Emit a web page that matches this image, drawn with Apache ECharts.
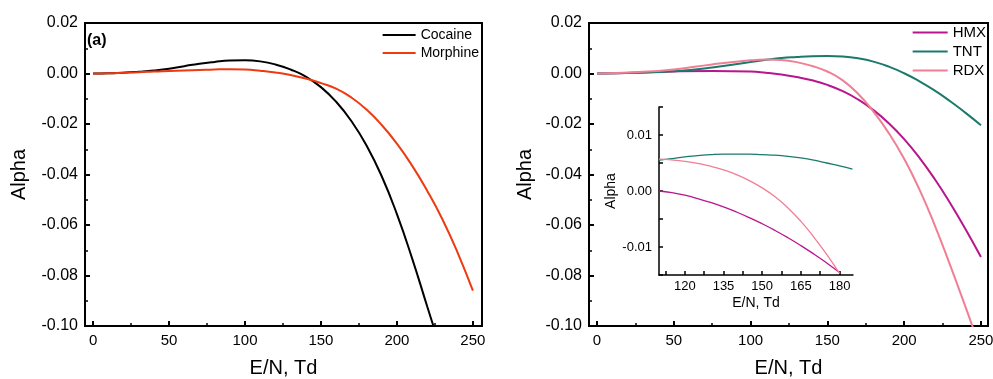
<!DOCTYPE html>
<html>
<head>
<meta charset="utf-8">
<script src="https://cdn.jsdelivr.net/npm/echarts@6/dist/echarts.min.js"></script>
<style>
html,body{margin:0;padding:0;background:#fff;}
#c{width:993px;height:379px;}
</style>
</head>
<body>
<div id="c"></div>
<script>
// ---- Left panel (a) ----
var cocaineX = [0,10,20,30,40,50,60,70,80,90,100,110,120,130,140,150,160,170,180,190,200,210,220,224];
var cocaineY = [0,0.0001,0.0003,0.0007,0.0012,0.0019,0.0029,0.0039,0.0046,0.0051,0.0052,0.0048,0.0036,0.0016,-0.0012,-0.0054,-0.0112,-0.0188,-0.0285,-0.0407,-0.0557,-0.0732,-0.0924,-0.1000];
var morphineX = [0,10,20,30,40,50,60,70,80,90,100,110,120,130,140,150,160,170,180,190,200,210,220,230,240,250];
var morphineY = [0,0.0001,0.0003,0.0005,0.0008,0.0010,0.0012,0.0014,0.0016,0.0017,0.0016,0.0011,0.0004,-0.0006,-0.0020,-0.0038,-0.0060,-0.0095,-0.0143,-0.0204,-0.0278,-0.0365,-0.0465,-0.0578,-0.0710,-0.0860];

// ---- Right panel ----
var rightX = [0,25,50,75,100,110,120,130,140,150,160,170,180,190,200,210,220,230,240,250];
var hmxY = [0,0.0003,0.0008,0.0010,0.0008,0.0003,-0.0004,-0.0014,-0.0027,-0.0045,-0.0070,-0.0103,-0.0145,-0.0197,-0.0260,-0.0334,-0.0419,-0.0514,-0.0617,-0.0727];
var tntY = [0,0.0003,0.0009,0.0024,0.0046,0.0054,0.0061,0.0065,0.0068,0.0069,0.0067,0.0060,0.0047,0.0027,0.0001,-0.0031,-0.0068,-0.0110,-0.0156,-0.0205];
var rdxX = [0,25,50,75,100,110,120,130,140,150,160,170,180,190,200,210,220,230,240,245];
var rdxY = [0,0.0005,0.0016,0.0036,0.0052,0.0055,0.0053,0.0045,0.0030,0.0008,-0.0027,-0.0080,-0.0151,-0.0236,-0.0338,-0.0460,-0.0602,-0.0760,-0.0925,-0.1010];

// ---- Inset ----
var insetX = [110,115,120,125,130,135,140,145,150,155,160,165,170,175,180];
var insetTntX = [110,115,120,125,130,135,140,145,150,155,160,165,170,175,180,185];
var insetTntY = [0.0055,0.0058,0.0061,0.0063,0.0065,0.0066,0.0066,0.0066,0.0065,0.0064,0.0062,0.0059,0.0055,0.0050,0.0045,0.0039];
var insetRdxY = [0.0057,0.00555,0.0053,0.00493,0.00443,0.00377,0.00292,0.00185,0.00055,-0.00102,-0.00302,-0.00542,-0.00822,-0.01132,-0.01472];
var insetHmxY = [0,-0.0003,-0.00075,-0.00135,-0.00205,-0.00285,-0.00375,-0.00475,-0.00585,-0.00705,-0.00835,-0.00975,-0.01125,-0.01285,-0.01455];

// ---- Ticks ----
var mainXLabels = [0,50,100,150,200,250];
var mainXMinor = [25,75,125,175,225];
var insetXLabels = [120,135,150,165,180];
var insetXTicks = [112.5,120,127.5,135,142.5,150,157.5,165,172.5,180];

var COLORS = {Cocaine:'#000000', Morphine:'#ee3a10', HMX:'#b8168c', TNT:'#1a7a6c', RDX:'#f07f95'};
var FONT = 'Liberation Sans, Arial, sans-serif';

function pairs(xs, ys){ return xs.map(function(x,i){ return [x, ys[i]]; }); }
function fmt2(v){ if (Math.abs(v) < 1e-9) return '0.00'; return v.toFixed(2); }

function mainX(grid, min, max){
  return [{
    type:'value', gridIndex:grid, min:min, max:max, position:'bottom',
    name:'E/N, Td', nameLocation:'middle', nameGap:32,
    nameTextStyle:{fontSize:20, color:'#000', fontFamily:FONT},
    axisLine:{show:true, onZero:false, lineStyle:{color:'#000', width:2}},
    axisTick:{show:true, inside:true, length:5, customValues:mainXLabels, lineStyle:{color:'#000', width:2}},
    axisLabel:{show:true, customValues:mainXLabels, fontSize:15, color:'#000', fontFamily:FONT, margin:7},
    splitLine:{show:false}
  },{
    type:'value', gridIndex:grid, min:min, max:max, position:'bottom',
    axisLine:{show:false, onZero:false},
    axisTick:{show:true, inside:true, length:3, customValues:mainXMinor, lineStyle:{color:'#000', width:1.5}},
    axisLabel:{show:false},
    splitLine:{show:false}
  }];
}
function mainY(grid, gap){
  return {
    type:'value', gridIndex:grid, min:-0.1, max:0.02, interval:0.02,
    name:'Alpha', nameLocation:'middle', nameGap:gap,
    nameTextStyle:{fontSize:20, color:'#000', fontFamily:FONT},
    axisLine:{show:true, onZero:false, lineStyle:{color:'#000', width:2}},
    axisTick:{show:true, inside:true, length:5, lineStyle:{color:'#000', width:2}},
    minorTick:{show:true, splitNumber:2, length:3, lineStyle:{color:'#000', width:1.5}},
    axisLabel:{fontSize:16, color:'#000', fontFamily:FONT, margin:7, formatter:fmt2},
    splitLine:{show:false}, minorSplitLine:{show:false}
  };
}

function line(name, xi, yi, data, width){
  return {name:name, type:'line', xAxisIndex:xi, yAxisIndex:yi, data:data,
    smooth:true, symbol:'none', silent:true,
    lineStyle:{color:COLORS[name], width:width}, itemStyle:{color:COLORS[name]}};
}

var xAxes = [].concat(mainX(0, -5.3, 256), mainX(1, -5.2, 254.6));
xAxes.push({
  type:'value', gridIndex:2, min:110, max:185.2, position:'bottom',
  name:'E/N, Td', nameLocation:'middle', nameGap:21,
  nameTextStyle:{fontSize:14, color:'#000', fontFamily:FONT},
  axisLine:{show:true, onZero:false, lineStyle:{color:'#000', width:1.5}},
  axisTick:{show:true, inside:true, length:4, customValues:insetXTicks, lineStyle:{color:'#000', width:1.5}},
  axisLabel:{show:true, customValues:insetXLabels, fontSize:13, color:'#000', fontFamily:FONT, margin:5},
  splitLine:{show:false}
});

var yAxes = [mainY(0, 56), mainY(1, 54), {
  type:'value', gridIndex:2, min:-0.015, max:0.015, interval:0.005,
  name:'Alpha', nameLocation:'middle', nameGap:34,
  nameTextStyle:{fontSize:14, color:'#000', fontFamily:FONT},
  axisLine:{show:true, onZero:false, lineStyle:{color:'#000', width:1.5}},
  axisTick:{show:true, inside:true, length:4, lineStyle:{color:'#000', width:1.5}},
  axisLabel:{fontSize:13, color:'#000', fontFamily:FONT, margin:7,
    formatter:function(v){ var r = Math.round(v*1000); if (r % 10 !== 0) return ''; return fmt2(v); }},
  splitLine:{show:false}
}];

var option = {
  animation:false,
  backgroundColor:'#fff',
  textStyle:{fontFamily:FONT},
  title:{text:'(a)', left:87, top:33, padding:0,
    textStyle:{fontSize:16, fontWeight:'bold', color:'#000', fontFamily:FONT}},
  grid:[
    {left:85, right:511, top:23, bottom:53, show:true, borderColor:'#000', borderWidth:2, backgroundColor:'transparent', outerBoundsMode:'none', containLabel:false},
    {left:589, right:5, top:23, bottom:53, show:true, borderColor:'#000', borderWidth:2, backgroundColor:'transparent', outerBoundsMode:'none', containLabel:false},
    {left:659, right:140, top:107, bottom:104, show:false, outerBoundsMode:'none', containLabel:false}
  ],
  legend:[
    {data:['Cocaine','Morphine'], orient:'vertical', right:514, top:28, padding:0,
     itemWidth:33, itemHeight:12, itemGap:4, itemStyle:{opacity:0},
     textStyle:{fontSize:14, color:'#000', fontFamily:FONT}},
    {data:['HMX','TNT','RDX'], orient:'vertical', right:7, top:25, padding:0,
     itemWidth:35, itemHeight:12, itemGap:4, itemStyle:{opacity:0},
     textStyle:{fontSize:15, color:'#000', fontFamily:FONT}}
  ],
  xAxis:xAxes,
  yAxis:yAxes,
  series:[
    line('Cocaine', 0, 0, pairs(cocaineX, cocaineY), 2),
    line('Morphine', 0, 0, pairs(morphineX, morphineY), 2),
    line('HMX', 2, 1, pairs(rightX, hmxY), 2),
    line('TNT', 2, 1, pairs(rightX, tntY), 2),
    line('RDX', 2, 1, pairs(rdxX, rdxY), 2),
    {name:'HMX inset', type:'line', xAxisIndex:4, yAxisIndex:2, data:pairs(insetX, insetHmxY), smooth:true, symbol:'none', silent:true, lineStyle:{color:COLORS.HMX, width:1.3}},
    {name:'TNT inset', type:'line', xAxisIndex:4, yAxisIndex:2, data:pairs(insetTntX, insetTntY), smooth:true, symbol:'none', silent:true, lineStyle:{color:COLORS.TNT, width:1.3}},
    {name:'RDX inset', type:'line', xAxisIndex:4, yAxisIndex:2, data:pairs(insetX, insetRdxY), smooth:true, symbol:'none', silent:true, lineStyle:{color:COLORS.RDX, width:1.3}}
  ]
};
var chart = echarts.init(document.getElementById('c'), null, {renderer:'canvas'});
chart.setOption(option);
</script>
</body>
</html>
